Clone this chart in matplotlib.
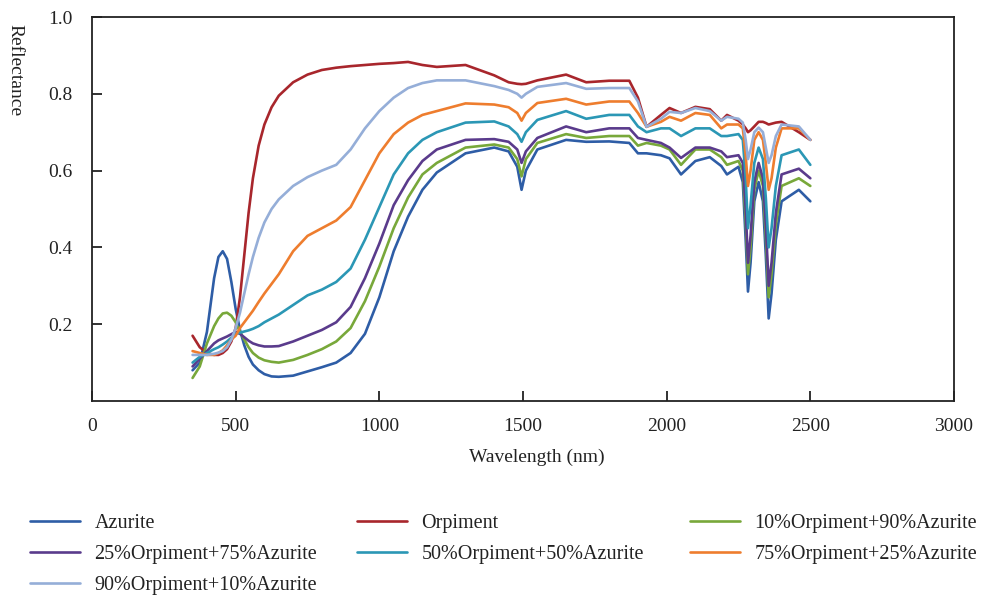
import matplotlib
matplotlib.use("Agg")
import matplotlib.pyplot as plt

plt.rcParams['font.family'] = ['Liberation Serif', 'DejaVu Serif']

wavelength = [350, 375, 400, 425, 440, 455, 470, 485, 500, 515, 530, 545, 560, 580, 600, 625, 650,
              700, 750, 800, 850, 900, 950, 1000, 1050, 1100, 1150, 1200, 1300, 1400, 1450, 1480,
              1495, 1510, 1550, 1650, 1720, 1800, 1870, 1900, 1930, 1980, 2010, 2050, 2100, 2150,
              2190, 2210, 2250, 2265, 2275, 2283, 2292, 2305, 2320, 2335, 2345, 2355, 2365, 2380,
              2400, 2460, 2500]

azurite = [0.08, 0.10, 0.18, 0.32, 0.375, 0.39, 0.37, 0.31, 0.24, 0.185, 0.145, 0.115, 0.095, 0.08,
           0.07, 0.064, 0.063, 0.066, 0.077, 0.088, 0.10, 0.125, 0.175, 0.27, 0.39, 0.48, 0.55,
           0.595, 0.645, 0.66, 0.65, 0.61, 0.55, 0.60, 0.655, 0.68, 0.675, 0.676, 0.672, 0.645,
           0.645, 0.64, 0.632, 0.59, 0.625, 0.635, 0.612, 0.59, 0.61, 0.57, 0.42, 0.285, 0.36, 0.52,
           0.57, 0.52, 0.38, 0.215, 0.28, 0.42, 0.52, 0.55, 0.52]

orpiment = [0.17, 0.14, 0.125, 0.12, 0.12, 0.125, 0.135, 0.155, 0.19, 0.27, 0.38, 0.49, 0.58, 0.665,
            0.72, 0.765, 0.795, 0.83, 0.85, 0.862, 0.868, 0.872, 0.875, 0.878, 0.88, 0.883, 0.875,
            0.87, 0.875, 0.848, 0.83, 0.826, 0.825, 0.826, 0.835, 0.85, 0.83, 0.834, 0.834, 0.79,
            0.714, 0.745, 0.763, 0.75, 0.766, 0.76, 0.73, 0.745, 0.73, 0.72, 0.71, 0.70, 0.705,
            0.715, 0.727, 0.727, 0.724, 0.72, 0.722, 0.725, 0.727, 0.70, 0.68]

mix10 = [0.06, 0.09, 0.15, 0.195, 0.215, 0.228, 0.23, 0.222, 0.205, 0.18, 0.16, 0.14, 0.125, 0.113,
         0.106, 0.102, 0.10, 0.107, 0.12, 0.135, 0.155, 0.19, 0.26, 0.35, 0.45, 0.53, 0.59, 0.62,
         0.66, 0.668, 0.66, 0.63, 0.585, 0.63, 0.672, 0.695, 0.685, 0.69, 0.69, 0.665, 0.672, 0.665,
         0.655, 0.615, 0.655, 0.655, 0.635, 0.615, 0.625, 0.60, 0.47, 0.33, 0.40, 0.55, 0.60, 0.56,
         0.43, 0.27, 0.33, 0.46, 0.56, 0.58, 0.56]

mix25 = [0.09, 0.11, 0.13, 0.15, 0.158, 0.163, 0.168, 0.174, 0.18, 0.175, 0.166, 0.157, 0.15, 0.145,
         0.142, 0.142, 0.143, 0.155, 0.17, 0.185, 0.205, 0.245, 0.32, 0.41, 0.51, 0.575, 0.625,
         0.655, 0.68, 0.682, 0.675, 0.655, 0.62, 0.65, 0.685, 0.715, 0.70, 0.71, 0.71, 0.685, 0.68,
         0.672, 0.66, 0.633, 0.66, 0.66, 0.65, 0.635, 0.64, 0.62, 0.50, 0.36, 0.43, 0.57, 0.62,
         0.58, 0.46, 0.30, 0.36, 0.49, 0.59, 0.605, 0.58]

mix50 = [0.10, 0.115, 0.125, 0.135, 0.14, 0.147, 0.155, 0.165, 0.175, 0.178, 0.181, 0.184, 0.188,
         0.195, 0.205, 0.215, 0.225, 0.25, 0.275, 0.29, 0.31, 0.345, 0.42, 0.505, 0.59, 0.645, 0.68,
         0.70, 0.725, 0.728, 0.715, 0.695, 0.675, 0.70, 0.732, 0.755, 0.735, 0.745, 0.745, 0.715,
         0.70, 0.71, 0.71, 0.69, 0.71, 0.71, 0.69, 0.69, 0.695, 0.68, 0.58, 0.45, 0.51, 0.62, 0.66,
         0.63, 0.53, 0.40, 0.45, 0.56, 0.64, 0.655, 0.615]

mix75 = [0.13, 0.125, 0.12, 0.12, 0.125, 0.132, 0.145, 0.16, 0.17, 0.19, 0.205, 0.22, 0.235, 0.258,
         0.28, 0.305, 0.33, 0.39, 0.43, 0.45, 0.47, 0.505, 0.575, 0.645, 0.695, 0.725, 0.745,
         0.755, 0.775, 0.772, 0.765, 0.75, 0.73, 0.75, 0.776, 0.787, 0.772, 0.78, 0.78, 0.75,
         0.714, 0.727, 0.74, 0.73, 0.75, 0.745, 0.71, 0.72, 0.72, 0.71, 0.64, 0.56, 0.60, 0.68,
         0.70, 0.68, 0.62, 0.55, 0.58, 0.66, 0.71, 0.71, 0.68]

mix90 = [0.12, 0.12, 0.12, 0.123, 0.126, 0.13, 0.14, 0.16, 0.19, 0.23, 0.28, 0.33, 0.375, 0.425,
         0.465, 0.50, 0.525, 0.56, 0.583, 0.60, 0.615, 0.655, 0.71, 0.755, 0.79, 0.815, 0.828,
         0.835, 0.835, 0.82, 0.81, 0.80, 0.79, 0.80, 0.818, 0.828, 0.813, 0.815, 0.815, 0.78,
         0.714, 0.735, 0.753, 0.75, 0.763, 0.755, 0.73, 0.74, 0.735, 0.725, 0.68, 0.63, 0.655,
         0.70, 0.712, 0.70, 0.66, 0.62, 0.64, 0.69, 0.72, 0.715, 0.68]

labels = ["Azurite", "Orpiment", "10%Orpiment+90%Azurite", "25%Orpiment+75%Azurite",
          "50%Orpiment+50%Azurite", "75%Orpiment+25%Azurite", "90%Orpiment+10%Azurite"]
series = [azurite, orpiment, mix10, mix25, mix50, mix75, mix90]
colors = ["#2E5DA6", "#A8262C", "#78A83A", "#5A3B8C", "#2B97B5", "#EE7D2E", "#95AED8"]

x_ticks = [0, 500, 1000, 1500, 2000, 2500, 3000]
y_ticks = [0.2, 0.4, 0.6, 0.8, 1.0]

W, H = 1003, 596
fig = plt.figure(figsize=(W / 100, H / 100), dpi=100)
ax = fig.add_axes([92 / W, 1 - 401 / H, (954 - 92) / W, (401 - 17) / H])

lines = []
for lab, vals, col in zip(labels, series, colors):
    ln, = ax.plot(wavelength, vals, color=col, lw=1.9, solid_joinstyle='round',
                  solid_capstyle='round')
    lines.append(ln)

ax.set_xlim(0, 3000)
ax.set_ylim(0, 1.0)
ax.set_xticks(x_ticks)
ax.set_xticklabels([str(v) for v in x_ticks])
ax.set_yticks(y_ticks)
ax.set_yticklabels(["%.1f" % v for v in y_ticks])
ax.tick_params(direction='in', length=7, width=1.3, labelsize=14, colors='#222222')
ax.tick_params(axis='x', pad=12)
ax.tick_params(axis='y', pad=14)
for sp in ax.spines.values():
    sp.set_linewidth(1.3)
    sp.set_color('#222222')

fig.text(537 / W, 1 - 457 / H, "Wavelength (nm)", ha='center', va='center', fontsize=14, color='#222222')
fig.text(15 / W, 1 - 70 / H, "Reflectance", ha='center', va='center', rotation=270, fontsize=14, color='#222222')

# legend: three columns placed like the reference
columns = [[0, 3, 6], [1, 4], [2, 5]]
col_x = [30, 357, 690]
for idxs, cx in zip(columns, col_x):
    leg = fig.legend([lines[i] for i in idxs], [labels[i] for i in idxs],
                     loc='upper left', bbox_to_anchor=(cx / W, 1 - 514 / H),
                     frameon=False, fontsize=14.5, handlelength=2.5, handletextpad=0.7,
                     labelspacing=0.58, borderpad=0, borderaxespad=0)
    for t in leg.get_texts():
        t.set_color('#222222')

fig.savefig("out.png", dpi=100)
